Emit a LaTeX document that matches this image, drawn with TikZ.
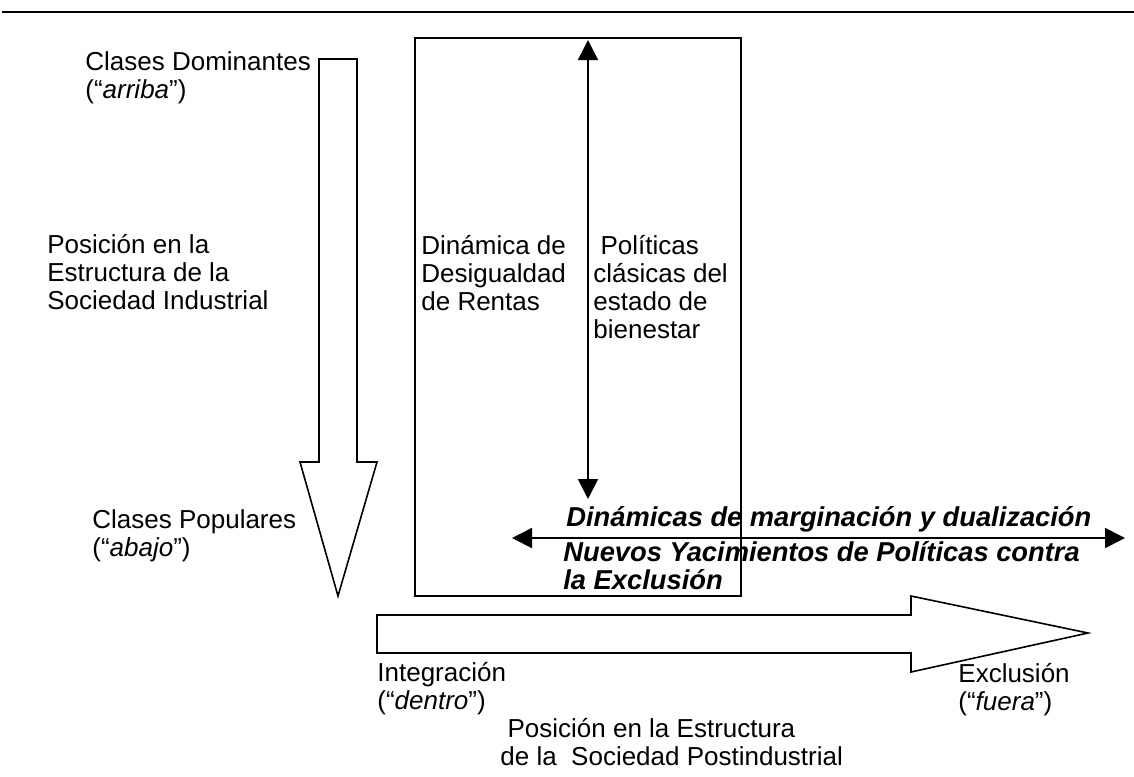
\documentclass[tikz,border=0pt]{standalone}
\usepackage{fontspec}
\setmainfont{Liberation Sans}
\usetikzlibrary{arrows.meta}
\tikzset{
  txt/.style={anchor=base west,inner sep=0pt,align=left,font=\fontsize{13}{14}\selectfont},
  boldtxt/.style={txt,font=\fontsize{13.65}{14}\selectfont\bfseries\itshape},
  blockarrow/.style={draw,line width=0.8pt,fill=white,line join=miter},
  dblarrow/.style={line width=0.8pt,{Triangle[length=10pt,width=10pt]}-{Triangle[length=10pt,width=10pt]}}
}
\begin{document}
\begin{tikzpicture}[x=0.5pt,y=-0.5pt]
        \useasboundingbox (0,0) rectangle (1134,776);
        %% Top rule
        \draw[line width=1.3pt] (2,12) -- (1134,12);
        %% Vertical block arrow
        \draw[blockarrow] (319,59) -- (357,59) -- (357,462) -- (377,462) -- (338,596)
            -- (300,462) -- (319,462) -- cycle;
        %% (multi-line nodes sit on their last baseline)
        \node[txt] (dom) at (85,98) {Clases Dominantes\\(“\textit{arriba}”)};
        \node[txt] (indus) at (47,309) {Posición en la\\Estructura de la\\Sociedad Industrial};
        \node[txt] (pop) at (92,556) {Clases Populares\\(“\textit{abajo}”)};
        %% Box
        \draw[line width=0.8pt] (415,38) rectangle (741,596);
        \node[txt] (renta) at (421,310) {Dinámica de\\Desigualdad\\de Rentas};
        \node[txt] (polit) at (593,338) {~Políticas\\clásicas del\\estado de\\bienestar};
        \coordinate (vtop) at (588,40);
        \coordinate (vbot) at (588,499);
        \draw[dblarrow] (vtop) -- (vbot);
        %% Exclusion arrow
        \coordinate (hleft) at (512,538);
        \coordinate (hright) at (1125,538);
        \draw[dblarrow] (hleft) -- (hright);
        \node[boldtxt] (margin) at (566,526) {Dinámicas de marginación y dualización};
        \node[boldtxt] (nuevos) at (563,589) {Nuevos Yacimientos de Políticas contra\\la Exclusión};
        %% Horizontal block arrow
        \draw[blockarrow] (377,615) -- (911,615) -- (911,596) -- (1088,633) -- (911,672)
            -- (911,653) -- (377,653) -- cycle;
        \node[txt] (integ) at (377,709) {Integración\\(“\textit{dentro}”)};
        \node[txt] (excl) at (958,710) {Exclusión\\(“\textit{fuera}”)};
        \node[txt] (postind) at (500,765) {~Posición en la Estructura\\de la~~Sociedad Postindustrial};
    \end{tikzpicture}
\end{document}
